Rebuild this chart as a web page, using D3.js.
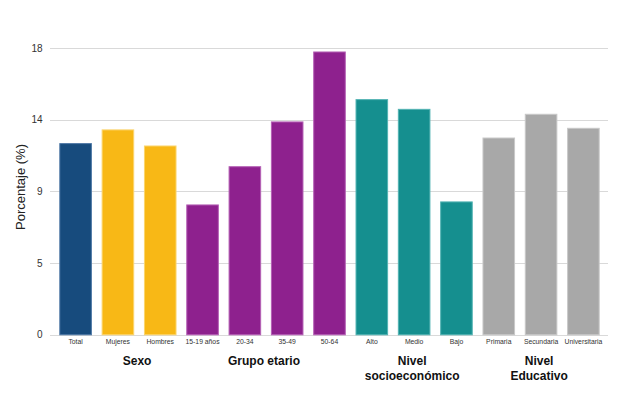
<!DOCTYPE html>
<html><head><meta charset="utf-8">
<script src="https://cdn.jsdelivr.net/npm/d3@7"></script>
<style>body{margin:0;background:#fff}svg{display:block;font-family:"Liberation Sans",Arial,sans-serif}</style>
</head><body><svg id="c" width="624" height="399"></svg>
<script>
const categories = ["Total","Mujeres","Hombres","15-19 años","20-34","35-49","50-64","Alto","Medio","Bajo","Primaria","Secundaria","Universitaria"];
const values = [12.0,12.86,11.85,8.15,10.55,13.36,17.75,14.76,14.15,8.34,12.35,13.84,12.96];
const groupOf = ["total","sexo","sexo","edad","edad","edad","edad","nse","nse","nse","edu","edu","edu"];
const groupColors = {total:"#174b7d", sexo:"#f8b816", edad:"#8e218e", nse:"#158f8f", edu:"#a8a8a8"};
const groupStroke = {total:"#4f78a6", sexo:"#fbd56e", edad:"#b560b5", nse:"#52b3b3", edu:"#c8c8c8"};
const tickValues = [0,4.5,9,13.5,18];
const tickLabels = ["0","5","9","14","18"];
const groupLabels = [
  {lines:["Sexo"], cats:["Mujeres","Hombres"]},
  {lines:["Grupo etario"], cats:["20-34","35-49"]},
  {lines:["Nivel","socioeconómico"], cats:["Medio"]},
  {lines:["Nivel","Educativo"], cats:["Secundaria"]}
];
const yTitle = "Porcentaje (%)";

const svg = d3.select("#c");
const x = d3.scaleBand().domain(categories).range([50,609]).paddingInner(0.23).paddingOuter(0.22);
const y = d3.scaleLinear().domain([0,18]).range([334.8,48]);

// gridlines
svg.append("g").selectAll("line").data(tickValues).join("line")
  .attr("x1",50).attr("x2",608)
  .attr("y1",d=>Math.round(y(d))+0.5).attr("y2",d=>Math.round(y(d))+0.5)
  .attr("stroke","#d9d9d9").attr("stroke-width",1.2);

// y tick labels
svg.append("g").selectAll("text").data(tickValues).join("text")
  .attr("x",42.5).attr("y",d=>y(d)).attr("dy","0.35em")
  .attr("text-anchor","end").attr("font-size",10).attr("fill","#333")
  .text((d,i)=>tickLabels[i]);

// y title
svg.append("text").attr("transform","translate(25,187) rotate(-90)")
  .attr("text-anchor","middle").attr("font-size",13).attr("fill","#222").text(yTitle);

// bars
svg.append("g").selectAll("rect").data(categories).join("rect")
  .attr("x",d=>x(d)+0.5).attr("width",x.bandwidth()-1)
  .attr("y",(d,i)=>y(values[i])).attr("height",(d,i)=>y(0)-y(values[i]))
  .attr("fill",(d,i)=>groupColors[groupOf[i]])
  .attr("stroke",(d,i)=>groupStroke[groupOf[i]]).attr("stroke-width",1);

// category labels
svg.append("g").selectAll("text").data(categories).join("text")
  .attr("x",d=>x(d)+x.bandwidth()/2).attr("y",344)
  .attr("text-anchor","middle").attr("font-size",6.8).attr("fill","#333").text(d=>d);

// group labels
groupLabels.forEach(g=>{
  const cx = d3.mean(g.cats,c=>x(c)+x.bandwidth()/2) - 2;
  const t = svg.append("text").attr("text-anchor","middle").attr("font-size",12)
    .attr("font-weight","bold").attr("fill","#111");
  g.lines.forEach((l,i)=>t.append("tspan").attr("x",cx).attr("y",365+i*14.5).text(l));
});
</script></body></html>
